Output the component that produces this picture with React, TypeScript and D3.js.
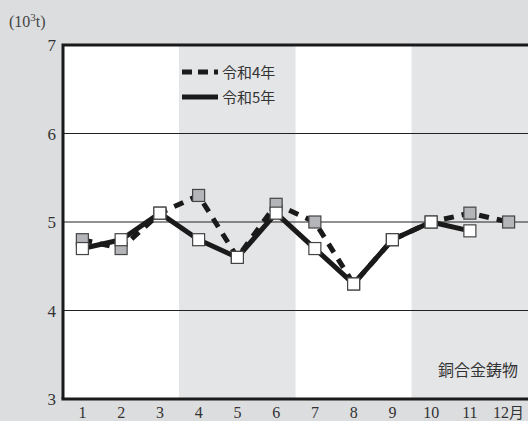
import React from "react";
import * as d3 from "d3";

const months = [1, 2, 3, 4, 5, 6, 7, 8, 9, 10, 11, 12];
const monthLabels = ["1", "2", "3", "4", "5", "6", "7", "8", "9", "10", "11", "12月"];
const r4 = [4.8, 4.7, 5.1, 5.3, 4.6, 5.2, 5.0, 4.3, 4.8, 5.0, 5.1, 5.0];
const r5 = [4.7, 4.8, 5.1, 4.8, 4.6, 5.1, 4.7, 4.3, 4.8, 5.0, 4.9];
const yTicks = [3, 4, 5, 6, 7];
const legendLabels = ["令和4年", "令和5年"];
const title = "銅合金鋳物";

const W = 528, H = 421;
const L = 63, R = 528, T = 45, B = 399;

export default function App() {
  const x = d3.scaleBand<number>().domain(months).range([L, R]);
  const cx = (m: number) => (x(m) as number) + x.bandwidth() / 2;
  const y = d3.scaleLinear().domain([3, 7]).range([B, T]);
  const line = d3.line<[number, number]>().x(d => cx(d[0])).y(d => y(d[1]));
  const d4 = r4.map((v, i) => [months[i], v] as [number, number]);
  const d5 = r5.map((v, i) => [months[i], v] as [number, number]);
  const serif = "'Liberation Serif', 'DejaVu Serif', 'Noto Sans CJK JP', serif";
  const jp = "'Noto Sans CJK JP', sans-serif";
  const bands = [[1, 3, "#ffffff"], [4, 6, "#e4e5e7"], [7, 9, "#ffffff"], [10, 12, "#e4e5e7"]] as const;
  const sq = 12;
  return (
    <svg width={W} height={H} style={{ position: "absolute", left: 0, top: 0 }}>
      <rect x={0} y={0} width={W} height={H} fill="#dcdddf" />
      {bands.map(([a, b, c], i) => (
        <rect key={i} x={x(a) as number} y={T} width={(x(b) as number) + x.bandwidth() - (x(a) as number)} height={B - T} fill={c} />
      ))}
      {yTicks.slice(1, -1).map(t => (
        <line key={t} x1={L} x2={R} y1={y(t)} y2={y(t)} stroke="#222" strokeWidth={1} />
      ))}
      {yTicks.map(t => (
        <text key={t} x={56} y={y(t) + 6} textAnchor="end" fontFamily={serif} fontSize={17} fill="#333">{t}</text>
      ))}
      {months.map((m, i) => (
        <text key={m} x={cx(m)} y={418} textAnchor="middle" fontFamily={serif} fontSize={16} fill="#333">
          {monthLabels[i].replace("月", "")}
          {monthLabels[i].includes("月") && <tspan fontFamily={jp} fontSize={15}>月</tspan>}
        </text>
      ))}
      <text x={9} y={27} fontFamily={serif} fontSize={16} fill="#444">
        (10<tspan dy={-6} fontSize={11}>3</tspan><tspan dy={6}>t)</tspan>
      </text>
      <path d={line(d4) || ""} fill="none" stroke="#1a1a1a" strokeWidth={5} strokeDasharray="10,8" />
      <path d={line(d5) || ""} fill="none" stroke="#1a1a1a" strokeWidth={5} strokeLinejoin="round" />
      {d4.map(([m, v]) => (
        <rect key={"a" + m} x={cx(m) - sq / 2} y={y(v) - sq / 2} width={sq} height={sq} fill="#b4b5b8" stroke="#444" strokeWidth={1.2} />
      ))}
      {d5.map(([m, v]) => (
        <rect key={"b" + m} x={cx(m) - sq / 2} y={y(v) - sq / 2} width={sq} height={sq} fill="#ffffff" stroke="#444" strokeWidth={1.2} />
      ))}
      <line x1={182} x2={218} y1={72} y2={72} stroke="#1a1a1a" strokeWidth={5} strokeDasharray="10,6" />
      <line x1={182} x2={218} y1={97} y2={97} stroke="#1a1a1a" strokeWidth={5} />
      <text x={222} y={78} fontFamily={jp} fontSize={15} fill="#333">{legendLabels[0]}</text>
      <text x={222} y={103} fontFamily={jp} fontSize={15} fill="#333">{legendLabels[1]}</text>
      <text x={518} y={376} textAnchor="end" fontFamily={jp} fontSize={16} fill="#333">{title}</text>
      <path d={`M${L},${B} V${T} H${R}`} fill="none" stroke="#1a1a1a" strokeWidth={3} />
      <line x1={L - 1.5} x2={R} y1={B} y2={B} stroke="#1a1a1a" strokeWidth={3} />
    </svg>
  );
}
